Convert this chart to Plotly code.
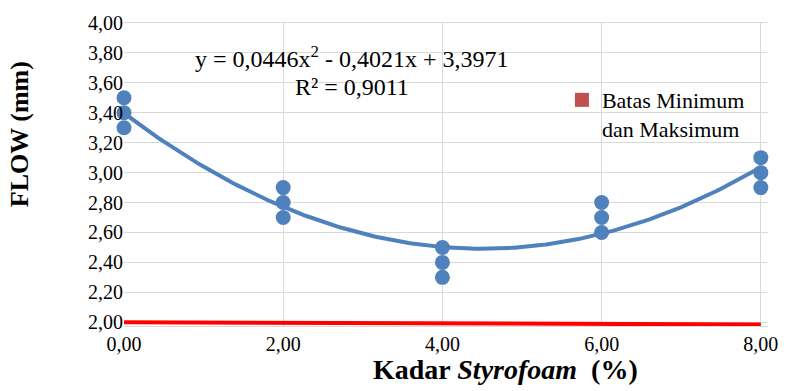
import numpy as np
import plotly.graph_objects as go

# Data
kadar = [0, 0, 0, 2, 2, 2, 4, 4, 4, 6, 6, 6, 8, 8, 8]
flow = [3.5, 3.4, 3.3, 2.9, 2.8, 2.7, 2.5, 2.4, 2.3, 2.8, 2.7, 2.6, 3.1, 3.0, 2.9]
batas_x = [0, 8]
batas_y = [2.0, 1.985]
x_ticks = [0, 2, 4, 6, 8]
x_ticklabels = ["0,00", "2,00", "4,00", "6,00", "8,00"]
y_ticks = [2.0, 2.2, 2.4, 2.6, 2.8, 3.0, 3.2, 3.4, 3.6, 3.8, 4.0]
y_ticklabels = ["2,00", "2,20", "2,40", "2,60", "2,80", "3,00", "3,20", "3,40", "3,60", "3,80", "4,00"]

coef = np.polyfit(kadar, flow, 2)
xs = np.linspace(0, 8, 200)
ys = np.polyval(coef, xs)

blue = "#4F81BD"
font = "Liberation Serif"

fig = go.Figure()
fig.add_trace(go.Scatter(x=batas_x, y=batas_y, mode="lines",
                         line=dict(color="#FF0000", width=4), showlegend=False, hoverinfo="skip"))
fig.add_trace(go.Scatter(x=xs, y=ys, mode="lines", line=dict(color=blue, width=4),
                         showlegend=False, hoverinfo="skip"))
fig.add_trace(go.Scatter(x=kadar, y=flow, mode="markers",
                         marker=dict(color=blue, size=15), showlegend=False, cliponaxis=False))
# legend entry
fig.add_trace(go.Scatter(x=[None], y=[None], mode="markers",
                         marker=dict(color="#C0504D", symbol="square", size=14),
                         name="Batas Minimum<br>dan Maksimum", showlegend=True))

fig.add_annotation(x=0.354, y=0.888, xref="paper", yref="paper", xanchor="center", yanchor="middle",
                   text="y = 0,0446x<sup>2</sup> - 0,4021x + 3,3971", showarrow=False,
                   font=dict(family=font, size=24, color="#000"))
fig.add_annotation(x=0.354, y=0.790, xref="paper", yref="paper", xanchor="center", yanchor="middle",
                   text="R² = 0,9011", showarrow=False,
                   font=dict(family=font, size=24, color="#000"))
# axis titles
fig.add_annotation(x=0.592, y=-0.145, xref="paper", yref="paper", xanchor="center", yanchor="middle",
                   text="<b>Kadar <i>Styrofoam</i>  (%)</b>", showarrow=False,
                   font=dict(family=font, size=28, color="#000"))
fig.add_annotation(x=-0.162, y=0.632, xref="paper", yref="paper", xanchor="center", yanchor="middle",
                   text="<b>FLOW (mm)</b>", showarrow=False, textangle=-90,
                   font=dict(family=font, size=26, color="#000"))

fig.update_layout(
    width=790, height=391,
    margin=dict(l=124, r=16, t=16, b=65),
    paper_bgcolor="white", plot_bgcolor="white",
    font=dict(family=font, size=20, color="#000"),
    legend=dict(x=0.68, y=0.815, xanchor="left", yanchor="top", valign="top",
                bgcolor="rgba(0,0,0,0)", font=dict(family=font, size=22),
                itemwidth=30, tracegroupgap=0),
    xaxis=dict(range=[0, 8.09], tickvals=x_ticks, ticktext=x_ticklabels,
               showgrid=True, gridcolor="#D9D9D9", gridwidth=1, zeroline=False,
               showline=True, mirror=True, linecolor="#D9D9D9", ticks=""),
    yaxis=dict(range=[1.975, 4.0], tickvals=y_ticks, ticktext=y_ticklabels,
               showgrid=True, gridcolor="#D9D9D9", gridwidth=1, zeroline=False,
               showline=False, ticks=""),
)

fig.write_html("out.html", config={"displayModeBar": False},
               post_script="document.body.style.margin='0';document.body.style.overflow='hidden';")
